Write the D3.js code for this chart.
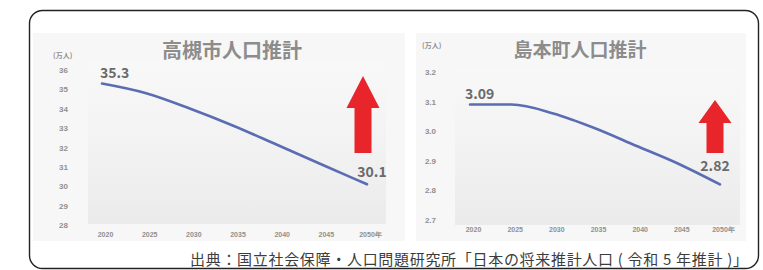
<!DOCTYPE html>
<html>
<head>
<meta charset="utf-8">
<script src="https://cdn.jsdelivr.net/npm/d3@7"></script>
<style>
  body { margin: 0; background: #fff; }
  svg { display: block; font-family: "Noto Sans CJK JP", "Noto Sans", sans-serif; }
</style>
</head>
<body>
<svg id="chart" width="763" height="270"></svg>
<script>
const years = ["2020", "2025", "2030", "2035", "2040", "2045", "2050"];
const yearLabels = ["2020", "2025", "2030", "2035", "2040", "2045", "2050年"];

const takatsukiValues = [35.3, 34.8, 34.0, 33.1, 32.1, 31.1, 30.1];
const takatsukiTicks = [28, 29, 30, 31, 32, 33, 34, 35, 36];

const shimamotoValues = [3.09, 3.09, 3.06, 3.01, 2.95, 2.89, 2.82];
const shimamotoTicks = [2.7, 2.8, 2.9, 3.0, 3.1, 3.2];

const titles = ["高槻市人口推計", "島本町人口推計"];
const unitLabel = "(万人)";
const source = "出典：国立社会保障・人口問題研究所「日本の将来推計人口 ( 令和 5 年推計 )」";

const svg = d3.select("#chart");

const defs = svg.append("defs");
const grad = defs.append("linearGradient")
  .attr("id", "plotbg")
  .attr("x1", 0).attr("y1", 0).attr("x2", 0).attr("y2", 1);
grad.append("stop").attr("offset", "0%").attr("stop-color", "#f8f8f8");
grad.append("stop").attr("offset", "45%").attr("stop-color", "#f3f3f3");
grad.append("stop").attr("offset", "100%").attr("stop-color", "#ebebeb");

// outer rounded frame
svg.append("rect")
  .attr("x", 29.5).attr("y", 10.5)
  .attr("width", 729).attr("height", 258)
  .attr("rx", 13)
  .attr("fill", "none")
  .attr("stroke", "#222")
  .attr("stroke-width", 1.4);

const panels = [
  {
    title: titles[0], values: takatsukiValues, ticks: takatsukiTicks,
    box: [33, 33, 372, 208], plot: [88, 62, 298, 162],
    xr: [102, 367], yd: [28, 36], yr: [225, 70],
    tickX: 68, unitX: 53, unitY: 58, titleX: 232, titleY: 58, titleSize: 20,
    fmt: d3.format("d"),
    labels: [[-2, -6, "start", "35.3"], [5, -7, "middle", "30.1"]],
    arrow: { x: 363, tip: 76, headY: 108, bottom: 153, headW: 33, shaftW: 17 }
  },
  {
    title: titles[1], values: shimamotoValues, ticks: shimamotoTicks,
    box: [416, 33, 330, 208], plot: [455, 70, 285, 155],
    xr: [470, 720], yd: [2.7, 3.2], yr: [220, 72],
    tickX: 436, unitX: 422, unitY: 48, titleX: 580, titleY: 57, titleSize: 19,
    fmt: d3.format(".1f"),
    labels: [[-5, -6, "start", "3.09"], [-5, -13, "middle", "2.82"]],
    arrow: { x: 715, tip: 100, headY: 123, bottom: 153, headW: 33, shaftW: 17 }
  }
];

panels.forEach(function (p) {
  const g = svg.append("g");

  g.append("rect")
    .attr("x", p.box[0]).attr("y", p.box[1])
    .attr("width", p.box[2]).attr("height", p.box[3])
    .attr("fill", "#f7f7f7");

  g.append("rect")
    .attr("x", p.plot[0]).attr("y", p.plot[1])
    .attr("width", p.plot[2]).attr("height", p.plot[3])
    .attr("fill", "url(#plotbg)");

  const x = d3.scalePoint().domain(years).range(p.xr);
  const y = d3.scaleLinear().domain(p.yd).range(p.yr);

  // y axis labels
  const yAxis = d3.axisLeft(y).tickValues(p.ticks).tickFormat(p.fmt).tickSize(0);
  const ya = g.append("g")
    .attr("transform", "translate(" + p.tickX + ",0)")
    .call(yAxis);
  ya.select(".domain").remove();
  ya.selectAll("text")
    .attr("x", 0)
    .attr("fill", "#909090")
    .style("font-size", "8px")
    .style("font-weight", "bold");

  g.append("text")
    .attr("x", p.unitX).attr("y", p.unitY)
    .attr("fill", "#909090")
    .style("font-size", "7px")
    .style("font-weight", "bold")
    .text(unitLabel);

  // x axis labels
  const xAxis = d3.axisBottom(x).tickFormat(function (d, i) { return yearLabels[i]; }).tickSize(0);
  const xa = g.append("g")
    .attr("transform", "translate(3," + (p.yr[0] + 4) + ")")
    .call(xAxis);
  xa.select(".domain").remove();
  xa.selectAll("text")
    .attr("fill", "#909090")
    .style("font-size", "7px")
    .style("font-weight", "bold");

  g.append("text")
    .attr("x", p.titleX).attr("y", p.titleY)
    .attr("text-anchor", "middle")
    .attr("fill", "#8c8c8c")
    .style("font-size", p.titleSize + "px")
    .style("font-weight", "bold")
    .text(p.title);

  const line = d3.line()
    .x(function (d, i) { return x(years[i]); })
    .y(function (d) { return y(d); })
    .curve(d3.curveMonotoneX);

  g.append("path")
    .datum(p.values)
    .attr("d", line)
    .attr("fill", "none")
    .attr("stroke", "#5a6db3")
    .attr("stroke-width", 2.6)
    .attr("stroke-linecap", "round");

  // data labels on first and last points
  [0, p.values.length - 1].forEach(function (idx, k) {
    const l = p.labels[k];
    g.append("text")
      .attr("x", x(years[idx]) + l[0])
      .attr("y", y(p.values[idx]) + l[1])
      .attr("text-anchor", l[2])
      .attr("fill", "#6a6a6a")
      .style("font-size", "14px")
      .style("font-weight", "bold")
      .text(l[3]);
  });

  // red arrow
  const a = p.arrow;
  const pts = [
    [a.x, a.tip],
    [a.x + a.headW / 2, a.headY],
    [a.x + a.shaftW / 2, a.headY],
    [a.x + a.shaftW / 2, a.bottom],
    [a.x - a.shaftW / 2, a.bottom],
    [a.x - a.shaftW / 2, a.headY],
    [a.x - a.headW / 2, a.headY]
  ];
  g.append("polygon")
    .attr("points", pts.map(function (q) { return q.join(","); }).join(" "))
    .attr("fill", "#e8252a");
});

svg.append("text")
  .attr("x", 190).attr("y", 265)
  .attr("textLength", 558)
  .attr("lengthAdjust", "spacing")
  .attr("fill", "#3c3c3c")
  .style("font-size", "15px")
  .text(source);
</script>
</body>
</html>
